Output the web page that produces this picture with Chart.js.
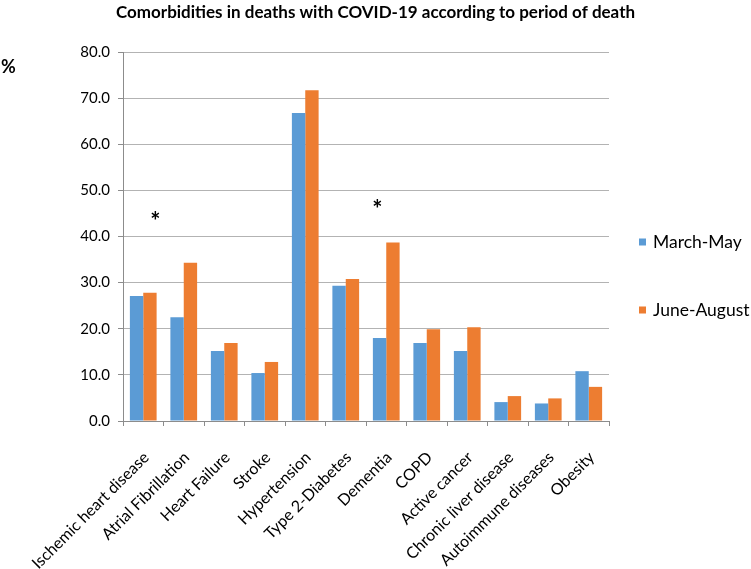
<!DOCTYPE html>
<html>
<head>
<meta charset="utf-8">
<script src="https://cdn.jsdelivr.net/npm/chart.js@4.4.0/dist/chart.umd.min.js"></script>
<style>
  body { margin: 0; background: #fff; }
  #wrap { width: 751px; height: 569px; }
</style>
</head>
<body>
<div id="wrap"><canvas id="myChart" width="751" height="569"></canvas></div>
<script>
const categories = ['Ischemic heart disease', 'Atrial Fibrillation', 'Heart Failure', 'Stroke',
    'Hypertension', 'Type 2-Diabetes', 'Dementia', 'COPD', 'Active cancer',
    'Chronic liver disease', 'Autoimmune diseases', 'Obesity'];
const marchMay = [27.1, 22.5, 15.2, 10.4, 66.8, 29.3, 18.0, 16.9, 15.2, 4.1, 3.8, 10.8];
const juneAugust = [27.8, 34.3, 16.9, 12.8, 71.7, 30.8, 38.7, 19.9, 20.3, 5.4, 4.9, 7.4];
const yTicks = [0, 10, 20, 30, 40, 50, 60, 70, 80];
// significance marks: category index and height in %
const starCategories = [0, 6];
const starValues = [44.5, 47.3];

const FONT = 'Lato';

// draws the "%" label, the asterisks and the legend on the right
const extras = {
    id: 'extras',
    afterDraw(chart) {
        const ctx = chart.ctx;
        const area = chart.chartArea;
        const x = chart.scales.x, y = chart.scales.y;
        ctx.save();
        ctx.fillStyle = '#000';
        ctx.textBaseline = 'middle';

        ctx.font = 'bold 18px ' + FONT;
        ctx.textAlign = 'left';
        ctx.fillText('%', 1, area.top + 15);

        const nudge = [0.3, -0.22]; // fraction of a category
        const catW = (area.right - area.left) / categories.length;
        ctx.font = 'bold 24px ' + FONT;
        ctx.textAlign = 'center';
        starCategories.forEach((c, i) => {
            ctx.fillText('*', x.getPixelForValue(c) + nudge[i] * catW, y.getPixelForValue(starValues[i]) + 7);
        });

        ctx.textAlign = 'left';
        ctx.font = '17.5px ' + FONT;
        chart.data.datasets.forEach((ds, i) => {
            const cy = area.top + 190 + i * 68;
            ctx.fillStyle = ds.backgroundColor;
            ctx.fillRect(area.right + 30, cy - 3.5, 7, 7);
            ctx.fillStyle = '#000';
            ctx.fillText(ds.label, area.right + 44, cy);
        });
        ctx.restore();
    }
};

const ctx = document.getElementById('myChart').getContext('2d');
const myChart = new Chart(ctx, {
    type: 'bar',
    data: {
        labels: categories,
        datasets: [{
            label: 'March-May',
            data: marchMay,
            backgroundColor: '#5B9BD5'
        }, {
            label: 'June-August',
            data: juneAugust,
            backgroundColor: '#ED7D31'
        }]
    },
    options: {
        responsive: false,
        animation: false,
        layout: { padding: 0 },
        datasets: {
            bar: { categoryPercentage: 0.66, barPercentage: 1.0 }
        },
        plugins: {
            legend: { display: false },
            tooltip: { enabled: false },
            title: {
                display: true,
                text: 'Comorbidities in deaths with COVID-19 according to period of death',
                color: '#000',
                font: { family: FONT, size: 17, weight: 'bold' },
                padding: { top: 2, bottom: 29.6 }
            }
        },
        scales: {
            x: {
                afterFit: s => { s.height = 148; },
                grid: {
                    offset: true,
                    drawOnChartArea: false,
                    drawTicks: true,
                    tickLength: 5,
                    color: '#8c8c8c'
                },
                border: { color: '#8c8c8c' },
                ticks: {
                    color: '#000',
                    font: { family: FONT, size: 16 },
                    minRotation: 45,
                    maxRotation: 45,
                    autoSkip: false,
                    padding: 22,
                    labelOffset: 3
                }
            },
            y: {
                min: 0,
                max: 80,
                afterFit: s => { s.width = 123; },
                afterBuildTicks: s => { s.ticks = yTicks.map(v => ({ value: v })); },
                grid: {
                    color: '#b3b3b3',
                    tickLength: 5,
                    tickColor: '#8c8c8c'
                },
                border: { color: '#8c8c8c' },
                ticks: {
                    color: '#000',
                    font: { family: FONT, size: 15 },
                    padding: 8,
                    callback: v => v.toFixed(1)
                }
            },
            // empty right-hand strip that holds the legend
            side: {
                position: 'right',
                display: true,
                afterFit: s => { s.width = 142; },
                grid: { display: false },
                border: { display: false },
                ticks: { display: false }
            }
        }
    },
    plugins: [extras]
});
</script>
</body>
</html>
